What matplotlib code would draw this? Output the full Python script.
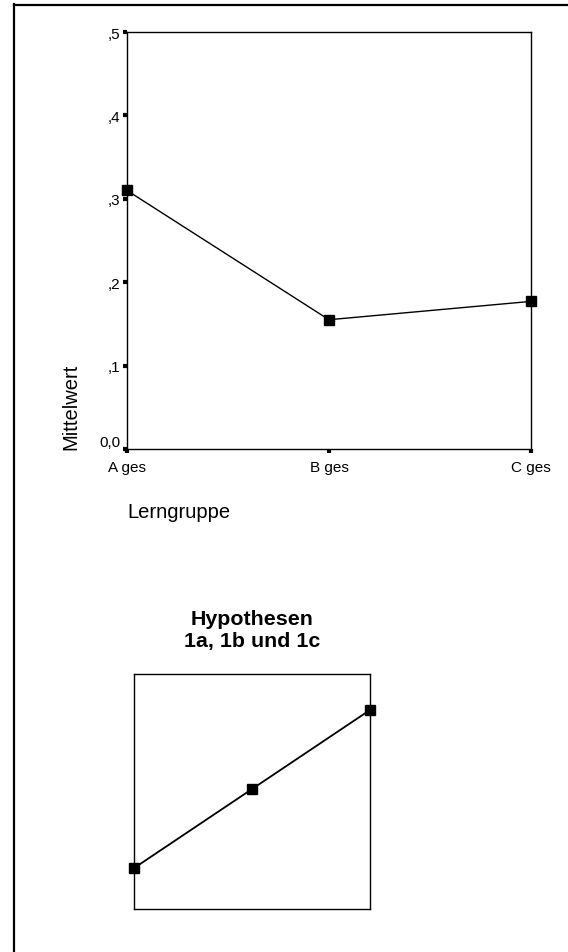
import matplotlib.pyplot as plt
from matplotlib.lines import Line2D

plt.rcParams['font.family'] = ['Liberation Sans', 'DejaVu Sans']

# Daten oben: Mittelwert je Lerngruppe
gruppen = ['A ges', 'B ges', 'C ges']
mittelwerte = [0.31, 0.155, 0.177]
yticks = [0.0, 0.1, 0.2, 0.3, 0.4, 0.5]
yticklabels = ['0,0', ',1', ',2', ',3', ',4', ',5']

# Daten unten: Hypothesen (schematisch)
hyp_x = [1, 2, 3]
hyp_y = [1, 2, 3]

fig = plt.figure(figsize=(5.68, 9.53), dpi=100)

# Rahmen links und oben
W, H = 568, 953
fig.add_artist(Line2D([13.5 / W, 13.5 / W], [0, 1 - 5 / H], color='black', lw=1.6))
fig.add_artist(Line2D([13.5 / W, 1], [1 - 5.5 / H, 1 - 5.5 / H], color='black', lw=1.6))

# oberes Diagramm
ax = fig.add_axes([127 / W, 1 - 450 / H, 404 / W, 417 / H])
ax.plot(range(len(gruppen)), mittelwerte, color='black', lw=1.0,
        marker='s', markersize=7, clip_on=False, zorder=5)
ax.set_xlim(0, len(gruppen) - 1)
ax.set_ylim(0, 0.5)
ax.set_xticks(range(len(gruppen)))
ax.set_xticklabels(gruppen, fontsize=11)
ax.set_yticks(yticks)
ax.set_yticklabels(yticklabels, fontsize=11)
ax.get_yticklabels()[0].set_va('bottom')  # 0,0 sitzt etwas hoeher
ax.tick_params(direction='out', length=3, width=3)
ax.tick_params(axis='y', pad=1.5)
ax.tick_params(axis='x', pad=5)
for s in ax.spines.values():
    s.set_linewidth(1.0)
ax.set_ylabel('Mittelwert', fontsize=14.5, loc='bottom')
ax.yaxis.set_label_coords(-0.116, 0)
ax.set_xlabel('Lerngruppe', fontsize=14.5, loc='left')
ax.xaxis.set_label_coords(0, -0.128)

# unteres Diagramm
ax2 = fig.add_axes([134 / W, 1 - 910 / H, 236 / W, 235 / H])
ax2.plot(hyp_x, hyp_y, color='black', lw=1.3,
         marker='s', markersize=7, clip_on=False, zorder=5)
ax2.set_xlim(1, 3)
ax2.set_ylim(0.483, 3.455)
ax2.set_xticks([])
ax2.set_yticks([])
for s in ax2.spines.values():
    s.set_linewidth(1.0)
ax2.set_title('Hypothesen\n1a, 1b und 1c', fontsize=15.4, fontweight='bold', pad=20)

fig.savefig('out.png', dpi=100)
